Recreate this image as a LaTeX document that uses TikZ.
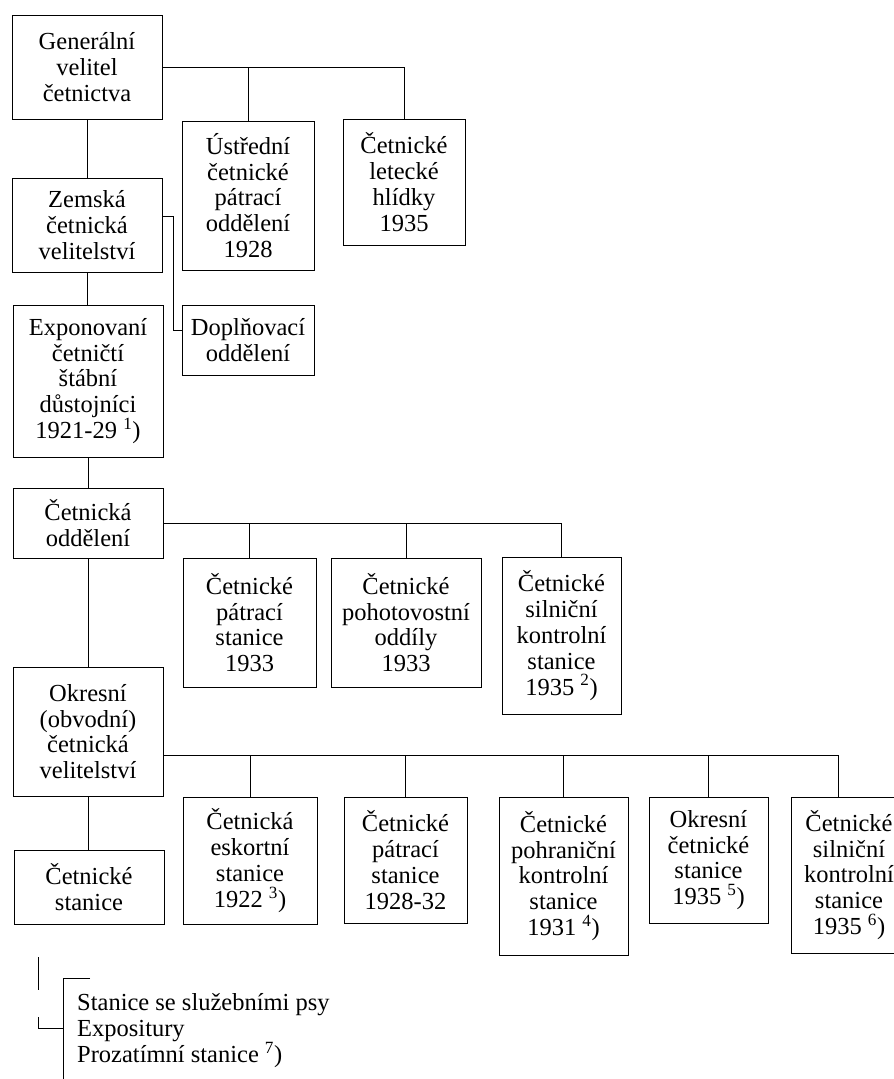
\documentclass[tikz,border=0pt]{standalone}
\usepackage{fontspec}
\setmainfont{Liberation Serif}

\begin{document}
\begin{tikzpicture}[x=1pt, y=-1pt]
% Styles
\tikzset{
    orgbox/.style 2 args={draw, line width=1pt, inner sep=0pt, align=center,
        minimum width=#1, minimum height=#2,
        font=\fontsize{24.5}{25.8}\selectfont},
    link/.style={line width=1pt}
}

% Frame
\useasboundingbox (0,0) rectangle (894,1079);
\clip (0,0) rectangle (894,1079);

% Nodes
\node[orgbox={150pt}{104pt}] (GEN) at (87, 67) {Generální\\velitel\\četnictva};
\node[orgbox={132pt}{149pt}] (UST) at (248, 195.5) {Ústřední\\četnické\\pátrací\\oddělení\\1928};
\node[orgbox={122pt}{126pt}] (LET) at (404, 182) {Četnické\\letecké\\hlídky\\1935};
\node[orgbox={150pt}{94pt}] (ZEM) at (87, 225) {Zemská\\četnická\\velitelství};
\node[orgbox={132pt}{70pt}] (DOP) at (248, 340) {Doplňovací\\oddělení};
\node[orgbox={150pt}{152pt}] (EXP) at (88, 381) {Exponovaní\\četničtí\\štábní\\důstojníci\\1921-29 \textsuperscript{1})};
\node[orgbox={150pt}{70pt}] (ODD) at (88, 523) {Četnická\\oddělení};
\node[orgbox={133pt}{129pt}] (PAT1) at (249.5, 622.5) {Četnické\\pátrací\\stanice\\1933};
\node[orgbox={150pt}{129pt}] (POH) at (406, 622.5) {Četnické\\pohotovostní\\oddíly\\1933};
\node[orgbox={119pt}{157pt}] (SIL1) at (561.5, 635.5) {Četnické\\silniční\\kontrolní\\stanice\\1935 \textsuperscript{2})};
\node[orgbox={150pt}{129pt}] (OKR) at (88, 731.5) {Okresní\\(obvodní)\\četnická\\velitelství};
\node[orgbox={150pt}{74pt}] (STA) at (89, 887) {Četnické\\stanice};
\node[orgbox={134pt}{127pt}] (ESK) at (250, 860.5) {Četnická\\eskortní\\stanice\\1922 \textsuperscript{3})};
\node[orgbox={123pt}{126pt}] (PAT2) at (405.5, 860) {Četnické\\pátrací\\stanice\\1928-32};
\node[orgbox={129pt}{158pt}] (POHR) at (563.5, 876) {Četnické\\pohraniční\\kontrolní\\stanice\\1931 \textsuperscript{4})};
\node[orgbox={119pt}{126pt}] (OKS) at (708.5, 860) {Okresní\\četnické\\stanice\\1935 \textsuperscript{5})};
\node[orgbox={116pt}{156pt}] (SIL2) at (849, 875) {Četnické\\silniční\\kontrolní\\stanice\\1935 \textsuperscript{6})};
\node[font=\fontsize{24.5}{26}\selectfont, align=left, inner sep=0pt, anchor=west] (LEG) at (77, 1031)
    {Stanice se služebními psy\\Expositury\\Prozatímní stanice \textsuperscript{7})};

% Connections
\draw[link] (GEN.east) -| (LET.north);
\draw[link] (UST.north) -- (UST.north |- GEN.east);
\draw[link] (GEN.south) -- (GEN.south |- ZEM.north);
\draw[link] ([yshift=9pt]ZEM.east) -- ++(11, 0) |- ([yshift=10pt]DOP.west);
\draw[link] (ZEM.south) -- (ZEM.south |- EXP.north);
\draw[link] (EXP.south) -- (EXP.south |- ODD.north);

\draw[link] (ODD.east) -| (SIL1.north);
\draw[link] (PAT1.north) -- (PAT1.north |- ODD.east);
\draw[link] (POH.north) -- (POH.north |- ODD.east);
\draw[link] (ODD.south) -- (ODD.south |- OKR.north);

\draw[link] ([yshift=-23.5pt]OKR.east) coordinate (BUS) -| ([xshift=-11pt]SIL2.north);
\draw[link] (ESK.north) -- (ESK.north |- BUS);
\draw[link] (PAT2.north) -- (PAT2.north |- BUS);
\draw[link] (POHR.north) -- (POHR.north |- BUS);
\draw[link] (OKS.north) -- (OKS.north |- BUS);
\draw[link] (OKR.south) -- (OKR.south |- STA.north);

% Legend marks
\coordinate (TICKa) at (38, 957);
\coordinate (TICKb) at (38, 1017);
\coordinate (BRtop) at (90, 978);
\draw[link] (TICKa) -- ++(0, 33);
\draw[link] (TICKb) |- (63, 1028);
\draw[link] (BRtop) -| (63, 1079);
\end{tikzpicture}
\end{document}
